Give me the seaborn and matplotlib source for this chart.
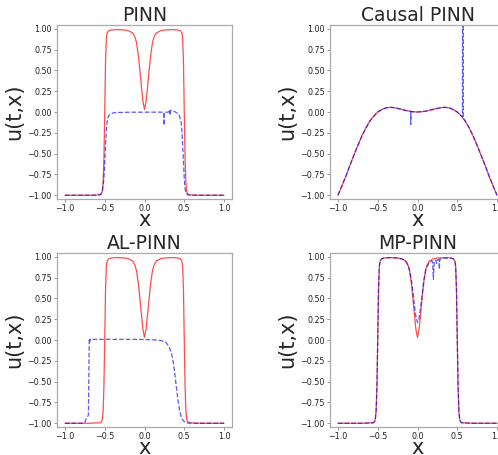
import numpy as np
import pandas as pd
import matplotlib
matplotlib.use("Agg")
import matplotlib.pyplot as plt
import seaborn as sns

# ---- data ----
# exact Allen-Cahn solution (red), shared by PINN, AL-PINN, MP-PINN panels
x_exact = [-1.0, -0.7, -0.56, -0.54, -0.53, -0.52, -0.51, -0.50, -0.49, -0.48, -0.47,
           -0.45, -0.42, -0.35, -0.25, -0.20, -0.15, -0.12, -0.10, -0.08, -0.06,
           -0.04, -0.02, 0.0, 0.02, 0.04, 0.06, 0.08, 0.10, 0.12, 0.15, 0.20,
           0.25, 0.35, 0.42, 0.45, 0.47, 0.48, 0.49, 0.50, 0.51, 0.52, 0.53,
           0.54, 0.56, 0.7, 1.0]
u_exact = [-1.0, -1.0, -0.995, -0.98, -0.95, -0.85, -0.55, 0.0, 0.6, 0.88, 0.95,
           0.975, 0.985, 0.99, 0.985, 0.975, 0.95, 0.9, 0.83, 0.7, 0.52,
           0.32, 0.13, 0.03, 0.13, 0.32, 0.52, 0.7, 0.83, 0.9, 0.95, 0.975,
           0.985, 0.99, 0.985, 0.975, 0.95, 0.88, 0.6, 0.0, -0.55, -0.85, -0.95,
           -0.98, -0.995, -1.0, -1.0]

# PINN prediction (blue)
x_pinn = [-1.0, -0.6, -0.55, -0.53, -0.51, -0.50, -0.49, -0.48, -0.47, -0.46, -0.45,
          -0.43, -0.40, -0.35, -0.2, 0.0, 0.2, 0.245, 0.246, 0.25, 0.30, 0.32, 0.321,
          0.33, 0.38, 0.42, 0.44, 0.46, 0.47, 0.48, 0.49, 0.50, 0.51, 0.52, 0.54,
          0.6, 1.0]
u_pinn = [-1.0, -1.0, -0.99, -0.95, -0.8, -0.6, -0.4, -0.22, -0.12, -0.07, -0.045,
          -0.025, -0.012, -0.006, -0.003, -0.002, -0.002, -0.003, -0.16, -0.002,
          -0.002, 0.03, -0.04, 0.02, 0.005, -0.02, -0.05, -0.12, -0.22, -0.4,
          -0.6, -0.8, -0.92, -0.97, -0.995, -1.0, -1.0]

# Causal PINN: exact (red) and prediction (blue)
x_causal = [-1.0, -0.95, -0.9, -0.85, -0.8, -0.75, -0.7, -0.65, -0.6, -0.55, -0.5,
            -0.45, -0.4, -0.35, -0.3, -0.25, -0.2, -0.15, -0.1, -0.05, 0.0, 0.05,
            0.1, 0.15, 0.2, 0.25, 0.3, 0.35, 0.4, 0.45, 0.5, 0.55, 0.6, 0.65, 0.7,
            0.75, 0.8, 0.85, 0.9, 0.95, 1.0]
u_causal_exact = [-1.0, -0.89, -0.77, -0.64, -0.52, -0.40, -0.29, -0.19, -0.11,
                  -0.047, 0.0, 0.03, 0.049, 0.056, 0.053, 0.044, 0.032, 0.02, 0.0095,
                  0.0025, 0.0, 0.0025, 0.0095, 0.02, 0.032, 0.044, 0.053, 0.056,
                  0.049, 0.03, 0.0, -0.047, -0.11, -0.19, -0.29, -0.40, -0.52,
                  -0.64, -0.77, -0.89, -1.0]
x_causal_pred = [-1.0, -0.9, -0.8, -0.7, -0.6, -0.5, -0.4, -0.35, -0.3, -0.2, -0.16,
                 -0.1, -0.085, -0.084, -0.083, -0.05, 0.0, 0.1, 0.2, 0.3, 0.35, 0.4,
                 0.45, 0.5, 0.55, 0.565, 0.566, 0.575, 0.576, 0.6, 0.65, 0.7, 0.8,
                 0.9, 1.0]
u_causal_pred = [-1.0, -0.77, -0.52, -0.29, -0.11, 0.0, 0.049, 0.056, 0.053, 0.032,
                 0.02, 0.0095, 0.006, -0.15, 0.006, 0.0025, 0.0, 0.0095, 0.032,
                 0.053, 0.056, 0.049, 0.03, 0.0, -0.047, -0.06, 1.1, 1.1, -0.075,
                 -0.11, -0.19, -0.29, -0.52, -0.77, -1.0]

# AL-PINN prediction (blue)
x_al = [-1.0, -0.76, -0.745, -0.735, -0.72, -0.705, -0.695, -0.69, -0.685, -0.68,
        -0.67, -0.65, -0.5, -0.2, 0.0, 0.15, 0.22, 0.27, 0.31, 0.34, 0.36, 0.38,
        0.40, 0.42, 0.44, 0.46, 0.48, 0.50, 0.53, 0.6, 1.0]
u_al = [-1.0, -1.0, -0.98, -0.95, -0.93, -0.9, 0.0, -0.03, 0.01, 0.0, 0.005, 0.008,
        0.008, 0.008, 0.006, 0.0, -0.01, -0.03, -0.08, -0.16, -0.26, -0.4, -0.56,
        -0.72, -0.84, -0.92, -0.96, -0.98, -0.995, -1.0, -1.0]

# MP-PINN prediction (blue)
x_mp = [-1.0, -0.7, -0.56, -0.54, -0.53, -0.52, -0.51, -0.50, -0.49, -0.48, -0.47,
        -0.45, -0.42, -0.35, -0.25, -0.20, -0.15, -0.12, -0.10, -0.08, -0.06,
        -0.04, -0.02, 0.0, 0.02, 0.04, 0.06, 0.08, 0.10, 0.12, 0.15, 0.18, 0.19,
        0.20, 0.21, 0.23, 0.24, 0.25, 0.27, 0.275, 0.28, 0.30, 0.35, 0.42, 0.45,
        0.47, 0.48, 0.49, 0.50, 0.51, 0.52, 0.53, 0.54, 0.56, 0.7, 1.0]
u_mp = [-1.0, -1.0, -0.995, -0.98, -0.95, -0.85, -0.55, 0.0, 0.6, 0.88, 0.95,
        0.975, 0.985, 0.99, 0.985, 0.975, 0.95, 0.9, 0.84, 0.74, 0.6,
        0.43, 0.28, 0.21, 0.26, 0.4, 0.56, 0.72, 0.82, 0.88, 0.93, 0.95, 0.94,
        0.73, 0.95, 0.96, 0.92, 0.96, 0.97, 0.85, 0.97, 0.975, 0.985, 0.985, 0.975,
        0.95, 0.88, 0.6, 0.0, -0.55, -0.85, -0.95, -0.98, -0.995, -1.0, -1.0]

titles = ["PINN", "Causal PINN", "AL-PINN", "MP-PINN"]
y_ticks = [-1.0, -0.75, -0.5, -0.25, 0.0, 0.25, 0.5, 0.75, 1.0]
x_ticks = [-1.0, -0.5, 0.0, 0.5, 1.0]

panels = [
    (x_exact, u_exact, x_pinn, u_pinn),
    (x_causal, u_causal_exact, x_causal_pred, u_causal_pred),
    (x_exact, u_exact, x_al, u_al),
    (x_exact, u_exact, x_mp, u_mp),
]

sns.set_style("white")
plt.rcParams['font.family'] = ['DejaVu Sans']

W, H = 498, 455
fig = plt.figure(figsize=(W / 100, H / 100), dpi=100)
boxes = [(57, 25), (330, 25), (57, 253), (330, 253)]
aw, ah = 175, 174

for (x0, y0), title, (xe, ue, xp, up) in zip(boxes, titles, panels):
    ax = fig.add_axes([x0 / W, 1 - (y0 + ah) / H, aw / W, ah / H])
    sns.lineplot(x=xe, y=ue, ax=ax, color="red", lw=0.9, alpha=0.7,
                 sort=False, estimator=None)
    sns.lineplot(x=xp, y=up, ax=ax, color="blue", lw=0.9, alpha=0.65,
                 linestyle="--", sort=False, estimator=None)
    ax.set_xlim(-1.1, 1.1)
    ax.set_ylim(-1.045, 1.045)
    ax.set_xticks(x_ticks)
    ax.set_yticks(y_ticks)
    ax.set_xticklabels([f"{v:.1f}".replace("-", "\u2212") for v in x_ticks])
    ax.set_yticklabels([f"{v:.2f}".replace("-", "\u2212") for v in y_ticks])
    ax.tick_params(axis="both", labelsize=5.8, length=2.5, width=0.6,
                   color="#888888", pad=1.2, labelcolor="#222222",
                   bottom=True, left=True)
    for s in ax.spines.values():
        s.set_color("#aaaaaa")
        s.set_linewidth(0.9)
    ax.set_title(title, fontsize=13.5, pad=3)
    ax.set_xlabel("x", fontsize=15, labelpad=-2.5)
    ax.set_ylabel("u(t,x)", fontsize=15, labelpad=2)

fig.savefig("out.png", dpi=100)
